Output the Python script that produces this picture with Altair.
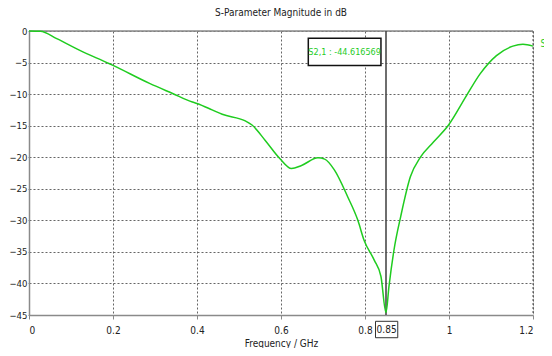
import altair as alt
import pandas as pd

# S-parameter S2,1 magnitude (dB)
freq_ghz = [0, 0.027, 0.066, 0.121, 0.188, 0.2, 0.287, 0.342, 0.389, 0.4, 0.436,
            0.46, 0.515, 0.531, 0.562, 0.597, 0.625, 0.649, 0.688, 0.704, 0.727,
            0.759, 0.783, 0.798, 0.822, 0.838, 0.85, 0.857, 0.869, 0.885, 0.908,
            0.932, 0.963, 0.999, 1.042, 1.074, 1.113, 1.152, 1.176, 1.2]
s21_db = [0, -0.05, -1.2, -3.07, -5.08, -5.45, -8.3, -9.9, -11.25, -11.5, -12.5,
          -13.2, -14.25, -14.9, -17.3, -20.2, -21.8, -21.3, -20.1, -20.3, -22.0,
          -26.3, -30.0, -33.2, -36.3, -38.9, -44.62, -40.5, -34.7, -29.4, -23.1,
          -20.0, -17.6, -14.9, -10.2, -6.8, -3.9, -2.4, -2.1, -2.4]

x_ticks = [0, 0.2, 0.4, 0.6, 0.8, 1, 1.2]
y_ticks = [0, -5, -10, -15, -20, -25, -30, -35, -40, -45]

marker_freq = 0.85
marker_label = "S2,1 : -44.616569"
marker_box = {"x": 0.665, "x2": 0.838, "y": -1.15, "y2": -5.45, "tx": 0.7515, "ty": -3.3}
freq_box = {"x": 0.825, "x2": 0.878, "y": -46.0, "y2": -48.6, "tx": 0.8515, "ty": -47.3}
series_label = {"x": 1.218, "y": -2.1, "text": "S2,1"}

FONT = "DejaVu Sans Condensed, Arial"
GREEN = "#1fcc1f"
FS = 10

df = pd.DataFrame({"f": freq_ghz, "db": s21_db})

xs = alt.Scale(domain=[0, 1.2], nice=False, zero=False)
ys = alt.Scale(domain=[-45, 0], nice=False)

AX_X = alt.Axis(values=x_ticks, format="~g", grid=True, gridDash=[2, 2],
                gridColor="#555555", gridOpacity=0.9, domainColor="#8a8a8a",
                domainWidth=1.5, tickColor="#8a8a8a", tickSize=4,
                labelFont=FONT, labelFontSize=FS, labelColor="#222",
                labelPadding=6, labelOverlap=False,
                titleFont=FONT, titleFontSize=FS,
                titleFontWeight="normal", titleColor="#222", titlePadding=3)
AX_Y = alt.Axis(values=y_ticks, grid=True, gridDash=[2, 2],
                gridColor="#555555", gridOpacity=0.9, domainColor="#8a8a8a",
                domainWidth=1.5, tickColor="#8a8a8a", tickSize=1,
                labelFont=FONT, labelFontSize=9.5, labelColor="#222",
                labelPadding=1, labelOverlap=False)


def xq(field):
    return alt.X(field, scale=xs, axis=AX_X, title="Frequency / GHz")


def yq(field):
    return alt.Y(field, scale=ys, axis=AX_Y, title=None)


line = alt.Chart(df).mark_line(color=GREEN, strokeWidth=1.5, interpolate="monotone").encode(
    x=xq("f:Q"), y=yq("db:Q"))

top_df = pd.DataFrame({"y": [0]})
top_rule = alt.Chart(top_df).mark_rule(color="#8a8a8a", strokeWidth=1.5).encode(
    y=yq("y:Q"))

right_df = pd.DataFrame({"x": [1.2]})
right_rule = alt.Chart(right_df).mark_rule(color="#555555", strokeDash=[2, 2]).encode(
    x=xq("x:Q"))

mk_df = pd.DataFrame({"x": [marker_freq]})
mk_rule = alt.Chart(mk_df).mark_rule(color="#4a4a4a", strokeWidth=1.6).encode(
    x=xq("x:Q"))

box_df = pd.DataFrame([marker_box])
box = alt.Chart(box_df).mark_rect(fill="white", stroke="#111", strokeWidth=1.5).encode(
    x=xq("x:Q"), x2="x2:Q", y=yq("y:Q"), y2="y2:Q")
box_text = alt.Chart(box_df).mark_text(text=marker_label, color=GREEN, font=FONT,
                                       fontSize=9, align="center", baseline="middle").encode(
    x=xq("tx:Q"), y=yq("ty:Q"))

fbox_df = pd.DataFrame([freq_box])
fbox = alt.Chart(fbox_df).mark_rect(fill="white", stroke="#333", strokeWidth=1).encode(
    x=xq("x:Q"), x2="x2:Q", y=yq("y:Q"), y2="y2:Q")
fbox_text = alt.Chart(fbox_df).mark_text(text="0.85", color="#222", font=FONT,
                                         fontSize=FS, align="center", baseline="middle").encode(
    x=xq("tx:Q"), y=yq("ty:Q"))

sl_df = pd.DataFrame([series_label])
sl = alt.Chart(sl_df).mark_text(color=GREEN, font=FONT, fontSize=FS, align="left",
                                baseline="middle").encode(
    x=xq("x:Q"), y=yq("y:Q"), text="text:N")

chart = alt.layer(top_rule, right_rule, mk_rule, line, box, box_text, fbox, fbox_text, sl).properties(
    width=504, height=284,
    title=alt.TitleParams("S-Parameter Magnitude in dB", font=FONT, fontSize=FS,
                          fontWeight="normal", color="#222", offset=8, anchor="middle",
                          frame="group"),
    autosize=alt.AutoSizeParams(type="none"),
    padding={"left": 21, "top": 23, "right": 11, "bottom": 33},
).configure_view(stroke=None).configure_axis(labelOverlap=False).configure(background="white")

chart.save("out.html", embed_options={"renderer": "svg", "actions": False})
